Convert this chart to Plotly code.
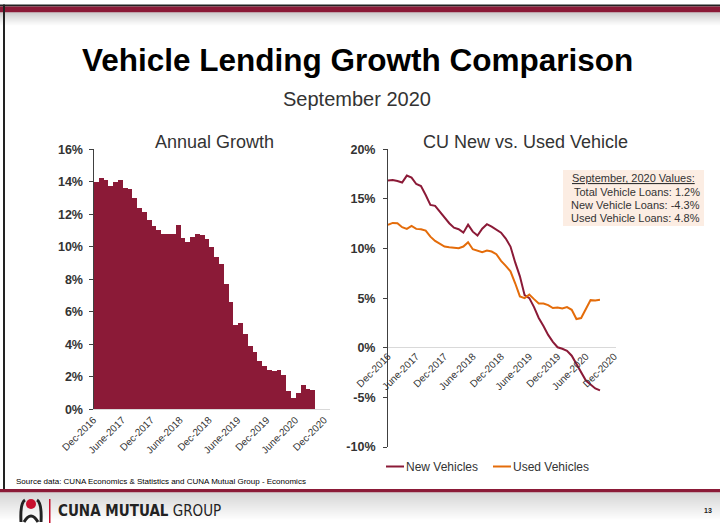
import plotly.graph_objects as go

W, H = 720, 523

# ---- data -------------------------------------------------------------
month_labels = [
    "Dec-2016", "Jan-2017", "Feb-2017", "Mar-2017", "Apr-2017", "May-2017",
    "Jun-2017", "Jul-2017", "Aug-2017", "Sep-2017", "Oct-2017", "Nov-2017",
    "Dec-2017", "Jan-2018", "Feb-2018", "Mar-2018", "Apr-2018", "May-2018",
    "Jun-2018", "Jul-2018", "Aug-2018", "Sep-2018", "Oct-2018", "Nov-2018",
    "Dec-2018", "Jan-2019", "Feb-2019", "Mar-2019", "Apr-2019", "May-2019",
    "Jun-2019", "Jul-2019", "Aug-2019", "Sep-2019", "Oct-2019", "Nov-2019",
    "Dec-2019", "Jan-2020", "Feb-2020", "Mar-2020", "Apr-2020", "May-2020",
    "Jun-2020", "Jul-2020", "Aug-2020", "Sep-2020",
]

# total vehicle loans, annual growth (%)
annual_growth = [
    14.0, 14.2, 14.1, 13.75, 14.0, 14.1, 13.6, 13.55, 13.0, 12.37, 12.1, 11.63,
    11.24, 10.99, 10.74, 10.76, 10.76, 11.3, 10.5, 10.3, 10.56, 10.8, 10.7, 10.45,
    10.0, 9.38, 8.95, 7.7, 6.6, 5.17, 5.32, 4.62, 3.88, 3.48, 2.95, 2.62,
    2.43, 2.33, 2.37, 2.08, 1.11, 0.68, 0.97, 1.48, 1.26, 1.2,
]

# CU new vehicle loan growth (%)
new_vehicles = [
    16.85, 16.9, 16.8, 16.65, 17.35, 17.15, 16.5, 16.3, 15.4, 14.4, 14.3, 13.7,
    13.1, 12.55, 12.1, 11.95, 11.6, 12.4, 11.7, 11.3, 12.0, 12.45, 12.2, 11.9,
    11.6, 11.0, 10.2, 8.6, 7.2, 5.3, 5.0, 4.1, 3.0, 2.2, 1.3, 0.6,
    0.05, -0.1, -0.3, -0.8, -1.6, -2.5, -3.3, -3.7, -4.1, -4.3,
]

# CU used vehicle loan growth (%)
used_vehicles = [
    12.38, 12.58, 12.55, 12.15, 11.98, 12.28, 11.98, 11.95, 11.8, 11.2, 10.77, 10.44,
    10.2, 10.13, 10.1, 10.03, 10.2, 10.64, 9.93, 9.8, 9.63, 9.8, 9.7, 9.43,
    8.76, 8.26, 7.7, 6.5, 5.17, 5.0, 5.37, 4.9, 4.46, 4.46, 4.3, 4.0,
    4.06, 3.96, 4.1, 3.83, 2.9, 3.0, 3.83, 4.8, 4.77, 4.83,
]

tick_labels = ["Dec-2016", "June-2017", "Dec-2017", "June-2018", "Dec-2018",
               "June-2019", "Dec-2019", "June-2020", "Dec-2020"]
tick_months = [0, 6, 12, 18, 24, 30, 36, 42, 48]

left_y_ticks = [0, 2, 4, 6, 8, 10, 12, 14, 16]
right_y_ticks = [-10, -5, 0, 5, 10, 15, 20]

summary_lines = [
    "Total Vehicle Loans: 1.2%",
    "New Vehicle Loans: -4.3%",
    "Used Vehicle Loans: 4.8%",
]

# ---- styling ----------------------------------------------------------
MAROON = "#8B1A37"
ORANGE = "#E46C0A"
TEXT = "#333333"
FONT = "Liberation Sans, Arial, sans-serif"


def px(x):
    return x / W


def py(y):
    return 1 - y / H


month_index = list(range(len(month_labels)))

fig = go.Figure()

fig.add_trace(go.Bar(
    x=[i + 0.5 for i in month_index], y=annual_growth, width=1,
    marker=dict(color=MAROON, line=dict(width=0)),
    xaxis="x", yaxis="y", showlegend=False,
    customdata=month_labels, hovertemplate="%{customdata}: %{y:.1f}%<extra></extra>",
))

fig.add_trace(go.Scatter(
    x=month_index, y=new_vehicles, mode="lines", name="New Vehicles",
    line=dict(color=MAROON, width=2), xaxis="x2", yaxis="y2", showlegend=False,
    customdata=month_labels, hovertemplate="%{customdata}: %{y:.1f}%<extra></extra>",
))
fig.add_trace(go.Scatter(
    x=month_index, y=used_vehicles, mode="lines", name="Used Vehicles",
    line=dict(color=ORANGE, width=2), xaxis="x2", yaxis="y2", showlegend=False,
    customdata=month_labels, hovertemplate="%{customdata}: %{y:.1f}%<extra></extra>",
))

axis_common = dict(showgrid=False, zeroline=False, fixedrange=True, automargin=False)

fig.update_layout(
    width=W, height=H,
    margin=dict(l=0, r=0, t=0, b=0, pad=0, autoexpand=False),
    paper_bgcolor="white", plot_bgcolor="rgba(0,0,0,0)",
    font=dict(family=FONT, color=TEXT),
    bargap=0,
    xaxis=dict(
        domain=[px(93.5), px(330)], range=[0, 49.2], anchor="y",
        tickvals=tick_months, ticktext=tick_labels, tickangle=-45,
        tickfont=dict(size=10, color=TEXT), ticks="",
        showline=True, linecolor="#D9D9D9", linewidth=1, **axis_common,
    ),
    yaxis=dict(
        domain=[py(409.3), py(149.3)], range=[0, 16], anchor="x",
        tickvals=left_y_ticks, ticktext=[f"{v}%" for v in left_y_ticks],
        tickfont=dict(size=12.5, color=TEXT, weight="bold"),
        ticks="outside", ticklen=4, tickcolor="#404040", ticklabelstandoff=3,
        showline=True, linecolor="#404040", linewidth=1, **axis_common,
    ),
    xaxis2=dict(
        domain=[px(388), px(616)], range=[0, 48.4], anchor="free",
        position=py(347.7),
        tickvals=tick_months, ticktext=tick_labels, tickangle=-45,
        tickfont=dict(size=10, color=TEXT), ticks="",
        showline=False, **axis_common,
    ),
    yaxis2=dict(
        domain=[py(447), py(149.3)], range=[-10, 20], anchor="x2",
        tickvals=right_y_ticks, ticktext=[f"{v}%" for v in right_y_ticks],
        tickfont=dict(size=12.5, color=TEXT, weight="bold"),
        ticks="outside", ticklen=4, tickcolor="#404040", ticklabelstandoff=5,
        showline=True, linecolor="#404040", linewidth=1,
        showgrid=False, fixedrange=True, automargin=False,
        zeroline=True, zerolinecolor="#D9D9D9", zerolinewidth=1,
    ),
)

shapes = []
annotations = []


def rect(x0, y0, x1, y1, color, layer="below"):
    shapes.append(dict(type="rect", xref="paper", yref="paper",
                       x0=px(x0), x1=px(x1), y0=py(y1), y1=py(y0),
                       fillcolor=color, line=dict(width=0), layer=layer))


def text(x, y, s, size, color=TEXT, xanchor="center", weight="normal", family=FONT, **kw):
    annotations.append(dict(xref="paper", yref="paper", x=px(x), y=py(y), text=s,
                            showarrow=False, xanchor=xanchor, yanchor="middle",
                            font=dict(size=size, color=color, family=family, weight=weight),
                            **kw))


# slide header band: black rule, maroon bar and a soft gray shadow below
rect(0, 4.5, W, 6.5, "#222222")
rect(0, 6.5, W, 12.5, MAROON)
for k in range(14):
    g = int(185 + (255 - 185) * (k / 13) ** 0.8)
    rect(0, 12.5 + k, W, 13.5 + k, f"rgb({g},{g},{g})")
# left frame edge
rect(3, 4.5, 5, 489, "#222222", layer="above")

# footer band
rect(0, 489, W, 492.5, MAROON)
for k in range(28):
    g = int(200 + (255 - 200) * (k / 27))
    rect(0, 492.5 + k, W, 493.5 + k, f"rgb({g},{g},{g})")

# logo mark: head and arms
shapes.append(dict(type="circle", xref="paper", yref="paper",
                   x0=px(26), x1=px(36), y0=py(509), y1=py(499),
                   fillcolor="#C8102E", line=dict(width=0)))
shapes.append(dict(type="path", xref="paper", yref="paper",
                   path=(f"M {px(21)},{py(522)} Q {px(20)},{py(503)} {px(25)},{py(500)} "
                         f"M {px(41)},{py(522)} Q {px(42)},{py(503)} {px(37)},{py(500)} "
                         f"M {px(24)},{py(522)} Q {px(31)},{py(510)} {px(38)},{py(522)}"),
                   line=dict(color="#222222", width=3)))
rect(49, 499, 50.5, 523, "#C8102E")

# summary box
rect(563, 170, 704, 226, "#FCEDE3")
text(633.5, 178.3, "<u>September, 2020 Values:</u>", 11)
for j, line in enumerate(summary_lines):
    text(702, 191.7 + 13.3 * j, line, 11, xanchor="right")

# legend for the right-hand chart
for x0, label, color in [(386, "New Vehicles", MAROON), (493, "Used Vehicles", ORANGE)]:
    shapes.append(dict(type="line", xref="paper", yref="paper",
                       x0=px(x0), x1=px(x0 + 18), y0=py(466.5), y1=py(466.5),
                       line=dict(color=color, width=2)))
    text(x0 + 18, 466.5, label, 12, xanchor="left")

# titles
text(357, 60, "Vehicle Lending Growth Comparison", 31.5, color="#000000", weight="bold")
text(357, 99, "September 2020", 20)
text(214, 142, "Annual Growth", 18)
text(525, 142, "CU New vs. Used Vehicle", 18)

# source and footer text
text(14, 481.5, "Source data: CUNA Economics &amp; Statistics and CUNA Mutual Group - Economics",
     8, color="#000000", xanchor="left")
text(56, 511, "<b>CUNA MUTUAL</b> GROUP", 15, color="#222222", xanchor="left",
     family="DejaVu Sans Condensed, Liberation Sans Narrow, sans-serif")
text(714, 510, "13", 7, color="#222222", xanchor="right", weight="bold")

fig.update_layout(shapes=shapes, annotations=annotations)

fig.write_html("out.html")
